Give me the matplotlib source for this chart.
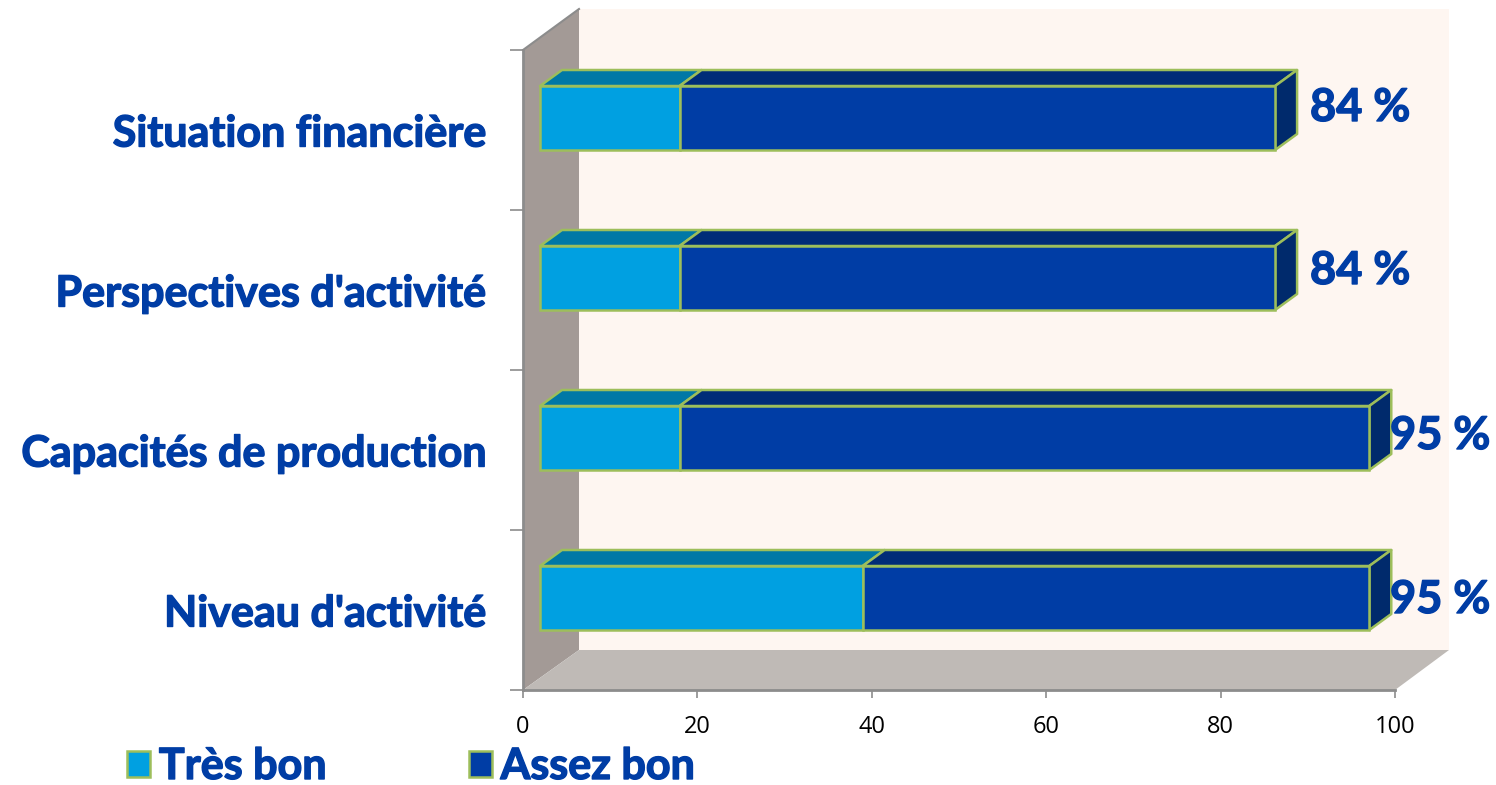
import matplotlib
matplotlib.use("Agg")
import matplotlib.pyplot as plt
import matplotlib.patheffects as pe
from matplotlib.patches import Patch, Polygon

# bottom to top, same order as the y axis
categories = ["Niveau d'activité", "Capacités de production", "Perspectives d'activité", "Situation financière"]
tres_bon = [37, 16, 16, 16]
assez_bon = [58.1, 79.1, 68.3, 68.3]
totals = ["95 %", "95 %", "84 %", "84 %"]
x_ticks = [0, 20, 40, 60, 80, 100]

BLUE = "#003DA5"
LIGHT = "#00A0E1"
GREEN = "#9DBE5B"
PX_X = 100 / 872  # data units per pixel
PX_Y = 4 / 640

plt.rcParams["font.family"] = ["Lato", "DejaVu Sans"]
heavy = [pe.withStroke(linewidth=1.0, foreground=BLUE)]

fig = plt.figure(figsize=(14.96, 7.85), dpi=100)
ax = fig.add_axes([523 / 1496, 95 / 785, 872 / 1496, 640 / 785])
ax.set_xlim(0, 100)
ax.set_ylim(0, 4)

# -------------------------------
# walls and floor of the 3d box
# -------------------------------
wall_dx, wall_dy = 56 * PX_X, 41 * PX_Y
floor_dy = 40 * PX_Y
back_right = 926 * PX_X


def box(points, color, zorder=1, edge="none", lw=0):
    ax.add_patch(Polygon(points, closed=True, facecolor=color, edgecolor=edge,
                         linewidth=lw, zorder=zorder, clip_on=False, joinstyle="round"))


box([(wall_dx, floor_dy), (back_right, floor_dy), (back_right, 4 + wall_dy), (wall_dx, 4 + wall_dy)], "#FEF6F1")
box([(0, 0), (wall_dx, floor_dy), (wall_dx, 4 + wall_dy), (0, 4)], "#A39A96")
box([(0, 0), (100, 0), (back_right, floor_dy), (wall_dx, floor_dy)], "#BFBAB6")
ax.plot([0, wall_dx], [4, 4 + wall_dy], color="#8C8C8C", lw=1.5, clip_on=False, zorder=2)

# -------------------------------
# bars: front faces then top and side
# -------------------------------
shift_x, shift_y = 17 * PX_X, 12 * PX_Y
depth_x, depth_y = 22 * PX_X, 16 * PX_Y
bar_h = 64 * PX_Y
y_pos = [i + 0.5 + shift_y for i in range(len(categories))]
lefts = [shift_x + v for v in tres_bon]
edge_lw = 1.8

ax.barh(y_pos, tres_bon, left=shift_x, height=bar_h, color=LIGHT, edgecolor=GREEN, linewidth=edge_lw, zorder=4)
ax.barh(y_pos, assez_bon, left=lefts, height=bar_h, color=BLUE, edgecolor=GREEN, linewidth=edge_lw, zorder=4)

for y, mid, dark in zip(y_pos, tres_bon, assez_bon):
    top = y + bar_h / 2
    bottom = y - bar_h / 2
    x_mid = shift_x + mid
    x_end = x_mid + dark
    box([(shift_x, top), (x_mid, top), (x_mid + depth_x, top + depth_y), (shift_x + depth_x, top + depth_y)],
        "#0078A6", 3, GREEN, edge_lw)
    box([(x_mid, top), (x_end, top), (x_end + depth_x, top + depth_y), (x_mid + depth_x, top + depth_y)],
        "#002C78", 3, GREEN, edge_lw)
    box([(x_end, bottom), (x_end + depth_x, bottom + depth_y), (x_end + depth_x, top + depth_y), (x_end, top)],
        "#002A6C", 3, GREEN, edge_lw)

# -------------------------------
# total labels
# -------------------------------
label_px = [(1390, 600), (1390, 436), (1310, 271), (1310, 108)]
for txt, (px, py) in zip(totals, label_px):
    ax.text((px - 523) * PX_X, (690 - py) * PX_Y, txt, color=BLUE, fontsize=32.5, fontweight="bold",
            ha="left", va="center", zorder=6, clip_on=False, path_effects=heavy)

# -------------------------------
# axes
# -------------------------------
for name in ["top", "right"]:
    ax.spines[name].set_visible(False)
for name in ["left", "bottom"]:
    ax.spines[name].set_color("#8C8C8C")
    ax.spines[name].set_linewidth(2)
    ax.spines[name].set_zorder(2)

ax.set_xticks(x_ticks)
ax.tick_params(axis="x", length=6, width=1.2, color="#8C8C8C", pad=12)
for lab in ax.get_xticklabels():
    lab.set_family(["Open Sans", "DejaVu Sans"])
    lab.set_fontsize(17)
    lab.set_color("black")

ax.set_yticks(range(len(categories) + 1))
ax.set_yticklabels([])
ax.set_yticks([i + 0.5 for i in range(len(categories))], labels=categories, minor=True)
ax.tick_params(axis="y", which="major", length=9.5, width=1.2, color="#8C8C8C")
ax.tick_params(axis="y", which="minor", length=0, pad=26.5)
for lab in ax.get_yticklabels(minor=True):
    lab.set_fontsize(31)
    lab.set_fontweight("bold")
    lab.set_color(BLUE)
    lab.set_path_effects(heavy)

# -------------------------------
# legend
# -------------------------------
handles = [Patch(facecolor=LIGHT, edgecolor=GREEN, linewidth=1.8, label="Très bon"),
           Patch(facecolor=BLUE, edgecolor=GREEN, linewidth=1.8, label="Assez bon")]
leg = fig.legend(handles=handles, loc="lower left", bbox_to_anchor=(127 / 1496, -1 / 785), ncol=2, frameon=False,
                 prop={"size": 31, "weight": "bold"}, labelcolor=BLUE, handlelength=0.54, handleheight=0.54,
                 handletextpad=0.2, columnspacing=3.3, borderpad=0, borderaxespad=0)
for t in leg.get_texts():
    t.set_path_effects(heavy)

fig.savefig("out.png", dpi=100)
